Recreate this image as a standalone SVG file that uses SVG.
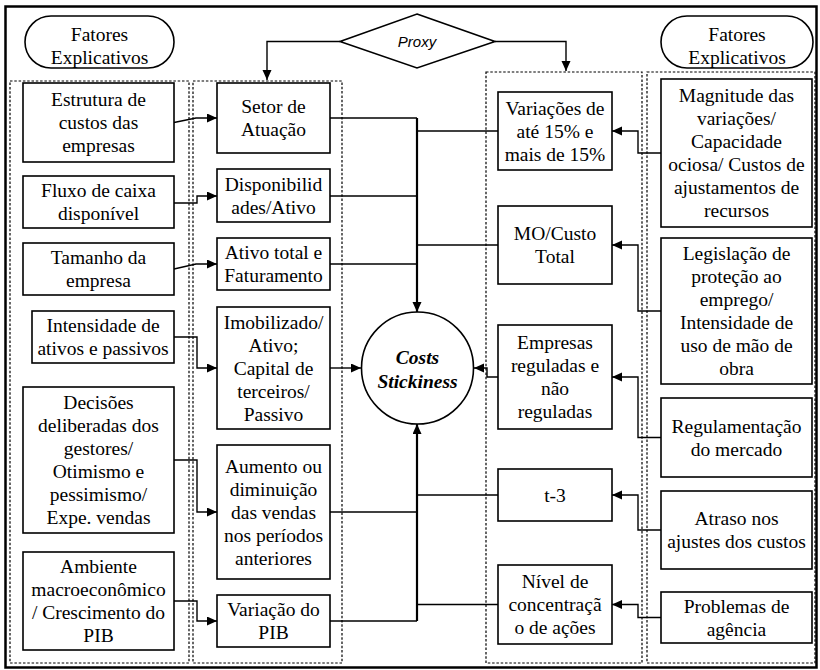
<svg xmlns="http://www.w3.org/2000/svg" width="820" height="670" viewBox="0 0 820 670" font-family="'Liberation Serif', 'DejaVu Serif', serif">
<defs>
<marker id="ah" markerUnits="userSpaceOnUse" markerWidth="11" markerHeight="10" refX="10" refY="4.5" orient="auto">
<path d="M0,0 L10,4.5 L0,9 z" fill="#000"/>
</marker>
</defs>
<style>
.box{fill:#fff;stroke:#000;stroke-width:1.6}
.dash{fill:none;stroke:#000;stroke-width:1.2;stroke-dasharray:2.5,1.8}
.t{font-family:'Liberation Serif','DejaVu Serif',serif;font-size:19.5px;fill:#000;text-anchor:middle}
.c{fill:none;stroke:#000;stroke-width:1.4}
.cb{fill:none;stroke:#000;stroke-width:2.2}
</style>
<rect x="0" y="0" width="820" height="670" fill="#fff"/>
<rect x="5.5" y="6.5" width="811" height="661" fill="none" stroke="#000" stroke-width="2.5"/>
<g id="frames">
<rect class="dash" x="10" y="81" width="179" height="582"/>
<rect class="dash" x="193" y="81" width="149" height="582"/>
<rect class="dash" x="486" y="72" width="156" height="591"/>
<rect class="dash" x="647" y="72" width="168" height="591"/>
</g>
<g id="connectors">
<path class="c" d="M340,41.5 H267 V80" marker-end="url(#ah)"/>
<path class="c" d="M495,41.5 H566 V71" marker-end="url(#ah)"/>
<path class="c" d="M174,122.5 L196,118 H217" marker-end="url(#ah)"/>
<path class="c" d="M174,203 H197 V196 H217" marker-end="url(#ah)"/>
<path class="c" d="M174,269 L196,264 H217" marker-end="url(#ah)"/>
<path class="c" d="M174,337 H197 V368 H217" marker-end="url(#ah)"/>
<path class="c" d="M174,460 H197 V512 H217" marker-end="url(#ah)"/>
<path class="c" d="M174,601 H197 V621 H217" marker-end="url(#ah)"/>
<path class="c" d="M330,118 H417"/>
<path class="c" d="M330,196 H417"/>
<path class="c" d="M330,264 H417"/>
<path class="c" d="M498,131 H417"/>
<path class="c" d="M498,245 H417"/>
<path class="cb" d="M417,118 V312" marker-end="url(#ah)"/>
<path class="c" d="M330,368 H361" marker-end="url(#ah)"/>
<path class="c" d="M330,512 H417"/>
<path class="c" d="M330,621 H417"/>
<path class="c" d="M498,495 H417"/>
<path class="c" d="M498,604.5 H417"/>
<path class="cb" d="M417,621 V424" marker-end="url(#ah)"/>
<path class="c" d="M498,377 H487 V368 H474" marker-end="url(#ah)"/>
<path class="c" d="M661,153 H638 V131 H612" marker-end="url(#ah)"/>
<path class="c" d="M661,311 H638 V245 H612" marker-end="url(#ah)"/>
<path class="c" d="M661,437.5 H638 V377 H612" marker-end="url(#ah)"/>
<path class="c" d="M661,530 H638 V495 H612" marker-end="url(#ah)"/>
<path class="c" d="M661,617.5 H638 V604.5 H612" marker-end="url(#ah)"/>
</g>
<g id="fatores-left">
<rect class="box" x="25" y="16" width="149" height="52" rx="26" ry="26"/>
<text class="t" x="99.5" y="40.5">Fatores</text>
<text class="t" x="99.5" y="63.5">Explicativos</text>
</g>
<g id="fatores-right">
<rect class="box" x="661" y="16" width="152" height="52" rx="26" ry="26"/>
<text class="t" x="737" y="40.5">Fatores</text>
<text class="t" x="737" y="63.5">Explicativos</text>
</g>
<g id="proxy">
<polygon points="417,14 495,41.5 417,68 340,41.5" fill="#fff" stroke="#000" stroke-width="1.6"/>
<text x="417" y="47" font-family="'Liberation Sans', Arial, sans-serif" font-size="15" font-style="italic" text-anchor="middle">Proxy</text>
</g>
<g id="costs-stickiness">
<circle cx="417.5" cy="368" r="56" fill="#fff" stroke="#000" stroke-width="1.6"/>
<text class="t" x="417.5" y="363.5" font-weight="bold" font-style="italic">Costs</text>
<text class="t" x="417.5" y="387.5" font-weight="bold" font-style="italic">Stickiness</text>
</g>
<g id="estrutura">
<rect class="box" x="23" y="83" width="151" height="79"/>
<text class="t" x="98.5" y="106">Estrutura de</text>
<text class="t" x="98.5" y="129">custos das</text>
<text class="t" x="98.5" y="152">empresas</text>
</g>
<g id="fluxo">
<rect class="box" x="23" y="176" width="151" height="52"/>
<text class="t" x="98.5" y="197">Fluxo de caixa</text>
<text class="t" x="98.5" y="220">disponível</text>
</g>
<g id="tamanho">
<rect class="box" x="23" y="243" width="151" height="52"/>
<text class="t" x="98.5" y="264">Tamanho da</text>
<text class="t" x="98.5" y="287">empresa</text>
</g>
<g id="intensidade">
<rect class="box" x="32" y="311" width="142" height="52"/>
<text class="t" x="103" y="332">Intensidade de</text>
<text class="t" x="103" y="355">ativos e passivos</text>
</g>
<g id="decisoes">
<rect class="box" x="23" y="387" width="151" height="146"/>
<text class="t" x="98.5" y="409">Decisões</text>
<text class="t" x="98.5" y="432">deliberadas dos</text>
<text class="t" x="98.5" y="455">gestores/</text>
<text class="t" x="98.5" y="478">Otimismo e</text>
<text class="t" x="98.5" y="501">pessimismo/</text>
<text class="t" x="98.5" y="524">Expe. vendas</text>
</g>
<g id="ambiente">
<rect class="box" x="23" y="552" width="151" height="98"/>
<text class="t" x="98.5" y="573">Ambiente</text>
<text class="t" x="98.5" y="596">macroeconômico</text>
<text class="t" x="98.5" y="619">/ Crescimento do</text>
<text class="t" x="98.5" y="642">PIB</text>
</g>
<g id="setor">
<rect class="box" x="217" y="83" width="113" height="70"/>
<text class="t" x="273.5" y="113">Setor de</text>
<text class="t" x="273.5" y="136">Atuação</text>
</g>
<g id="disponibilidades">
<rect class="box" x="217" y="169" width="113" height="53"/>
<text class="t" x="273.5" y="190.5">Disponibilid</text>
<text class="t" x="273.5" y="213.5">ades/Ativo</text>
</g>
<g id="ativo-total">
<rect class="box" x="217" y="238" width="113" height="52"/>
<text class="t" x="273.5" y="259">Ativo total e</text>
<text class="t" x="273.5" y="282">Faturamento</text>
</g>
<g id="imobilizado">
<rect class="box" x="217" y="307" width="113" height="122"/>
<text class="t" x="273.5" y="328.5">Imobilizado/</text>
<text class="t" x="273.5" y="351.5">Ativo;</text>
<text class="t" x="273.5" y="374.5">Capital de</text>
<text class="t" x="273.5" y="397.5">terceiros/</text>
<text class="t" x="273.5" y="420.5">Passivo</text>
</g>
<g id="aumento">
<rect class="box" x="217" y="445" width="113" height="134"/>
<text class="t" x="273.5" y="472.5">Aumento ou</text>
<text class="t" x="273.5" y="495.5">diminuição</text>
<text class="t" x="273.5" y="518.5">das vendas</text>
<text class="t" x="273.5" y="541.5">nos períodos</text>
<text class="t" x="273.5" y="564.5">anteriores</text>
</g>
<g id="variacao-pib">
<rect class="box" x="217" y="595" width="113" height="52"/>
<text class="t" x="273.5" y="616">Variação do</text>
<text class="t" x="273.5" y="639">PIB</text>
</g>
<g id="variacoes">
<rect class="box" x="498" y="92" width="114" height="78"/>
<text class="t" x="555" y="114.5">Variações de</text>
<text class="t" x="555" y="137.5">até 15% e</text>
<text class="t" x="555" y="160.5">mais de 15%</text>
</g>
<g id="mo-custo">
<rect class="box" x="498" y="206" width="114" height="78"/>
<text class="t" x="555" y="240">MO/Custo</text>
<text class="t" x="555" y="263">Total</text>
</g>
<g id="empresas">
<rect class="box" x="498" y="325" width="114" height="104"/>
<text class="t" x="555" y="349">Empresas</text>
<text class="t" x="555" y="372">reguladas e</text>
<text class="t" x="555" y="395">não</text>
<text class="t" x="555" y="418">reguladas</text>
</g>
<g id="t-3">
<rect class="box" x="498" y="469" width="114" height="52"/>
<text class="t" x="555" y="502">t-3</text>
</g>
<g id="nivel">
<rect class="box" x="498" y="565" width="114" height="79"/>
<text class="t" x="555" y="588">Nível de</text>
<text class="t" x="555" y="611">concentraçã</text>
<text class="t" x="555" y="634">o de ações</text>
</g>
<g id="magnitude">
<rect class="box" x="661" y="79" width="151" height="148"/>
<text class="t" x="736.5" y="102">Magnitude das</text>
<text class="t" x="736.5" y="125">variações/</text>
<text class="t" x="736.5" y="148">Capacidade</text>
<text class="t" x="736.5" y="171">ociosa/ Custos de</text>
<text class="t" x="736.5" y="194">ajustamentos de</text>
<text class="t" x="736.5" y="217">recursos</text>
</g>
<g id="legislacao">
<rect class="box" x="661" y="238" width="151" height="146"/>
<text class="t" x="736.5" y="260">Legislação de</text>
<text class="t" x="736.5" y="283">proteção ao</text>
<text class="t" x="736.5" y="306">emprego/</text>
<text class="t" x="736.5" y="329">Intensidade de</text>
<text class="t" x="736.5" y="352">uso de mão de</text>
<text class="t" x="736.5" y="375">obra</text>
</g>
<g id="regulamentacao">
<rect class="box" x="661" y="398" width="151" height="79"/>
<text class="t" x="736.5" y="432.5">Regulamentação</text>
<text class="t" x="736.5" y="455.5">do mercado</text>
</g>
<g id="atraso">
<rect class="box" x="661" y="491" width="151" height="78"/>
<text class="t" x="736.5" y="525">Atraso nos</text>
<text class="t" x="736.5" y="548">ajustes dos custos</text>
</g>
<g id="problemas">
<rect class="box" x="661" y="592" width="151" height="51"/>
<text class="t" x="736.5" y="612.5">Problemas de</text>
<text class="t" x="736.5" y="635.5">agência</text>
</g>
</svg>
